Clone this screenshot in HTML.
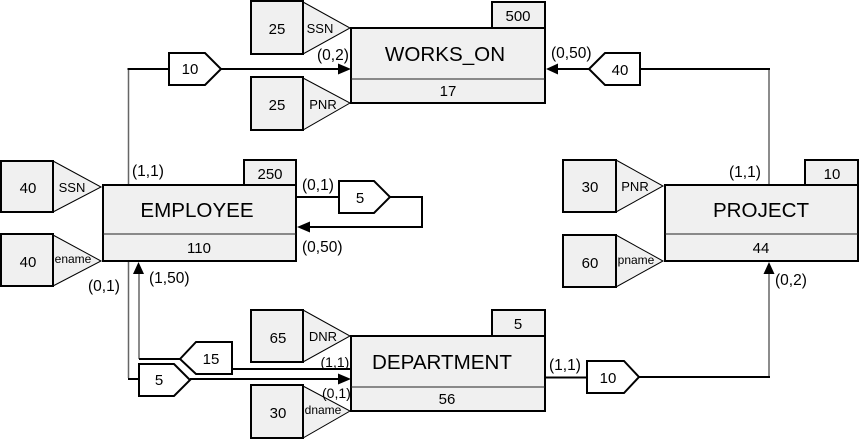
<!DOCTYPE html>
<html><head><meta charset="utf-8"><style>
html,body{margin:0;padding:0;background:#fff}
svg{display:block}
text{font-family:"Liberation Sans",Arial,sans-serif;fill:#000;text-anchor:middle}
.t{font-size:20.6px}.n{font-size:15px}.a{font-size:13px}.s{font-size:12px}.c{font-size:15.500px;text-anchor:start}
.c2{font-size:14px;text-anchor:start}
.b{fill:#f0f0f0;stroke:#000;stroke-width:2}
.w{fill:#fff;stroke:#000;stroke-width:2}
.tri{fill:#f0f0f0;stroke:#000;stroke-width:1}
.l{fill:none;stroke:#000;stroke-width:2}
.g{fill:none;stroke:#666;stroke-width:1.5}
.d{stroke:#222;stroke-width:1}
</style></head><body>
<svg width="860" height="439" viewBox="0 0 860 439" xmlns="http://www.w3.org/2000/svg">
<!-- connectors -->
<path class="g" d="M128.5 185V69M128.500 261V378M139 273V359M769 185V69M769 273V377"/>
<path class="l" d="M127.5 69H169M221 69H340M128 379H139M190 379H340M139 359H180M232 369H351M557 69H589M640 69H770M296 197H339M390 197H422V227H310M545 377.5H587M639 377H770"/>
<path d="M351 69L338 63.500V74.500ZM546 69L558 63.500V74.500ZM297 227L310 221.500V232.500ZM351 379L338 373.500V384.500ZM138.500 262L133 274H144ZM769 262L763.500 274H774.500Z" fill="#000"/>
<!-- EMPLOYEE -->
<rect class="b" x="244" y="160" width="52" height="25"/><rect class="b" x="103" y="185" width="193" height="76"/><path class="d" d="M103 234H296"/>
<text class="t" x="197" y="217">EMPLOYEE</text><text class="n" x="270" y="179">250</text><text class="n" x="199" y="253">110</text>
<path class="tri" d="M53 161L101 187L53 212Z"/><rect class="b" x="1" y="161" width="52" height="51"/><text class="n" x="28" y="193">40</text><text class="a" x="72" y="192">SSN</text>
<path class="tri" d="M53 235L101 261L53 286Z"/><rect class="b" x="1" y="234" width="52" height="52"/><text class="n" x="28" y="267">40</text><text class="s" x="73" y="263">ename</text>
<!-- WORKS_ON -->
<rect class="b" x="492" y="2" width="53" height="26"/><rect class="b" x="351" y="28" width="194" height="75"/><path class="d" d="M351 79H545"/>
<text class="t" x="445" y="61">WORKS_ON</text><text class="n" x="518" y="21">500</text><text class="n" x="448" y="96">17</text>
<path class="tri" d="M303 2L350 28L303 54Z"/><rect class="b" x="251" y="1" width="52" height="53"/><text class="n" x="277" y="34">25</text><text class="a" x="320" y="33">SSN</text>
<path class="tri" d="M303 78L350 103L303 130Z"/><rect class="b" x="251" y="77" width="52" height="53"/><text class="n" x="277" y="110">25</text><text class="a" x="323" y="109">PNR</text>
<!-- PROJECT -->
<rect class="b" x="805" y="160" width="53" height="25"/><rect class="b" x="665" y="185" width="193" height="76"/><path class="d" d="M665 234H858"/>
<text class="t" x="761" y="217">PROJECT</text><text class="n" x="832" y="179">10</text><text class="n" x="761" y="253">44</text>
<path class="tri" d="M616 160L663 186L616 212Z"/><rect class="b" x="563" y="160" width="53" height="52"/><text class="n" x="590" y="192">30</text><text class="a" x="635" y="191">PNR</text>
<path class="tri" d="M616 235L663 261L616 287Z"/><rect class="b" x="563" y="235" width="53" height="52"/><text class="n" x="590" y="268">60</text><text class="s" x="636" y="264">pname</text>
<!-- DEPARTMENT attributes, then labels the box overlaps, then the box -->
<path class="tri" d="M303 310L350 336L303 362Z"/><rect class="b" x="251" y="310" width="52" height="52"/><text class="n" x="278" y="343">65</text><text class="a" x="323" y="341">DNR</text>
<path class="tri" d="M303 386L350 411L303 438Z"/><rect class="b" x="251" y="385" width="52" height="53"/><text class="n" x="278" y="418">30</text><text class="s" x="323" y="414">dname</text>
<rect class="b" x="492" y="310" width="53" height="26"/><rect class="b" x="351" y="336" width="194" height="75"/><path class="d" d="M351 387H545"/>
<text class="c2" x="320.500" y="367">(1,1)</text><text class="c2" x="322" y="398">(0,1)</text>
<text class="t" x="442" y="369">DEPARTMENT</text><text class="n" x="518" y="329">5</text><text class="n" x="447" y="404">56</text>
<!-- tags -->
<path class="w" d="M169 53H205L221 69L205 85H169Z"/><text class="n" x="190" y="74">10</text>
<path class="w" d="M589 69L605 53H640V85H605Z"/><text class="n" x="620" y="75">40</text>
<path class="w" d="M339 181H374L390 197L374 213H339Z"/><text class="n" x="360" y="203">5</text>
<path class="w" d="M587 361H624L639 377L624 393H587Z"/><text class="n" x="608" y="383">10</text>
<path class="w" d="M180 359L196 342H232V374H196Z"/><text class="n" x="211" y="364">15</text>
<path class="w" d="M139 364H174L190 380L174 396H139Z"/><text class="n" x="159" y="385">5</text>
<!-- cardinalities -->
<text class="c" x="132" y="176">(1,1)</text><text class="c" x="149" y="283">(1,50)</text><text class="c" x="88" y="291">(0,1)</text>
<text class="c" x="302" y="190">(0,1)</text><text class="c" x="302" y="252">(0,50)</text>
<text class="c" x="317" y="60">(0,2)</text><text class="c" x="551" y="58">(0,50)</text>
<text class="c" x="729" y="177">(1,1)</text><text class="c" x="775" y="285">(0,2)</text>
<text class="c" x="549" y="370">(1,1)</text>
</svg>
</body></html>
